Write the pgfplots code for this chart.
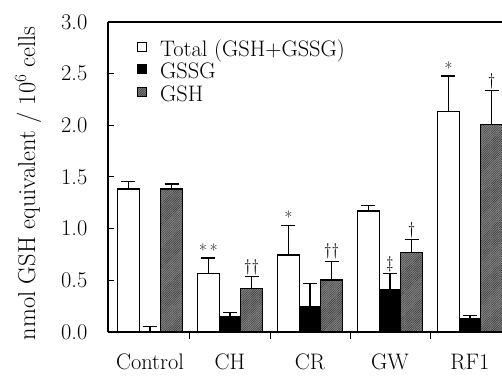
\documentclass[border=0pt]{standalone}
\usepackage{fontspec}
\usepackage{pgfplots}
\pgfplotsset{compat=1.18}
\usepackage{pgfplotstable}
\usetikzlibrary{patterns.meta}

\pgfplotstableread{
x y e
0 1.384 0.070
1 0.568 0.148
2 0.745 0.285
3 1.171 0.050
4 2.132 0.345
}\tot
\pgfplotstableread{
x y e
0 0.005 0.046
1 0.148 0.042
2 0.245 0.225
3 0.406 0.162
4 0.132 0.028
}\gssg
\pgfplotstableread{
x y e
0 1.384 0.048
1 0.420 0.115
2 0.503 0.181
3 0.768 0.125
4 2.006 0.329
}\gsh

\begin{document}
\fontsize{22.5}{25}\selectfont
\begin{tikzpicture}
\path[use as bounding box] (-108bp,-44bp) rectangle (394bp,332bp);
\begin{axis}[
  scale only axis, width=394bp, height=310bp,
  xmin=-0.525, xmax=4.4, ymin=0, ymax=3,
  axis x line*=bottom, axis y line*=left,
  axis line style={line width=1.2bp},
  /pgf/number format/assume math mode=true,
  ytick={0,0.5,...,3.0},
  yticklabel style={/pgf/number format/fixed, /pgf/number format/fixed zerofill, /pgf/number format/precision=1, xshift=-13bp},
  tick label style={font=\fontsize{22.5}{25}\selectfont},
  label style={font=\fontsize{24.5}{27}\selectfont},
  tick align=inside,
  major tick length=6bp,
  minor tick length=7bp,
  tick style={line width=1bp, black},
  xtick={0,1,2,3,4},
  xticklabels={Control,CH,CR,GW,RF1},
  major x tick style={draw=none},
  minor xtick={0.5,1.5,2.5,3.5},
  xticklabel style={yshift=-15bp, inner sep=1bp},
  ylabel={nmol GSH equivalent / 10\textsuperscript{6} cells},
  ylabel style={at={(rel axis cs:-0.203,0.48)}, anchor=center},
  ybar, bar width=0.27,
  every axis plot/.append style={line width=1.1bp, draw=black},
  error bars/error bar style={line width=1.1bp, black},
  error bars/error mark options={rotate=90, mark size=7bp, line width=1.1bp, black},
  legend style={draw=none, fill=none, at={(rel axis cs:0.072,0.945)}, anchor=north west,
    row sep=0bp, inner sep=0bp, font=\fontsize{22.5}{25}\selectfont,
    nodes={inner sep=0.5bp, text depth=5bp, text height=16.5bp}},
  legend cell align=left,
  legend image code/.code={\draw[#1, line width=1bp] (0bp,-1bp) rectangle (9bp,8bp);},
  clip=false,
]
\addplot[fill=white, bar shift=-0.27, error bars/.cd, y dir=plus, y explicit]
  table[x=x, y=y, y error=e]{\tot};
\addplot[fill=black, bar shift=0, error bars/.cd, y dir=plus, y explicit]
  table[x=x, y=y, y error=e]{\gssg};
\addplot[fill=black!48, postaction={pattern={Lines[angle=45,distance=1.6bp,line width=0.45bp]}, pattern color=black!80},
  bar shift=0.27, error bars/.cd, y dir=plus, y explicit]
  table[x=x, y=y, y error=e]{\gsh};
\legend{\hspace*{13bp}Total (GSH+GSSG),\hspace*{13bp}GSSG,\hspace*{13bp}GSH}
\draw[line width=1.2bp] (rel axis cs:0,1) -- (rel axis cs:1,1);
\begin{scope}[every node/.style={font=\fontsize{17}{18}\selectfont, anchor=south, inner sep=1.5bp}]
\node at (axis cs:0.73,0.716) {*\,*};
\node at (axis cs:1.27,0.535) {\dag\dag};
\node at (axis cs:1.73,1.030) {*};
\node at (axis cs:2.27,0.684) {\dag\dag};
\node at (axis cs:3.00,0.568) {\ddag};
\node at (axis cs:3.27,0.893) {\dag};
\node at (axis cs:3.73,2.477) {*};
\node at (axis cs:4.27,2.335) {\dag};
\end{scope}
\end{axis}
\end{tikzpicture}
\end{document}
